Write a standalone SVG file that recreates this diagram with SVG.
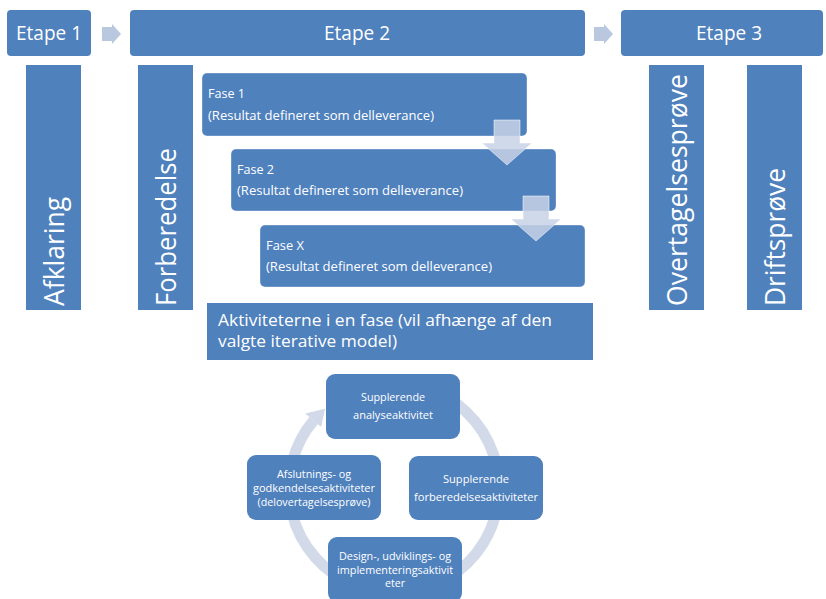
<svg xmlns="http://www.w3.org/2000/svg" width="826" height="599" viewBox="0 0 826 599">
<style>
.box{fill:#4f81bd}
.fase{fill:#4f81bd;stroke:#ffffff;stroke-opacity:0.35;stroke-width:1}
.t{fill:#ffffff;font-family:"Open Sans","Liberation Sans",sans-serif}
.et{font-size:20px;text-anchor:middle}
.vt{font-size:27px}
.ft{font-size:12.5px}
.at{font-size:17px}
.ct{font-size:11.5px;text-anchor:middle}
.harrow{fill:#b9c7df}
.varrow{fill:#c8d2e6;fill-opacity:0.85;stroke:#ffffff;stroke-opacity:0.5;stroke-width:1}
.ring{fill:none;stroke:#d2d9e8;stroke-width:11}
.ringhead{fill:#d2d9e8}
</style>
<rect width="826" height="599" fill="#ffffff"/>

<g id="etape1"><rect class="box" x="7" y="10" width="84" height="46" rx="4"/><text class="t et" x="49" y="40" textLength="66" lengthAdjust="spacingAndGlyphs">Etape 1</text></g>
<g id="etape2"><rect class="box" x="130" y="10" width="455" height="46" rx="4"/><text class="t et" x="357" y="40" textLength="66" lengthAdjust="spacingAndGlyphs">Etape 2</text></g>
<g id="etape3"><rect class="box" x="621" y="10" width="202" height="46" rx="4"/><text class="t et" x="729" y="40" textLength="66" lengthAdjust="spacingAndGlyphs">Etape 3</text></g>

<g id="afklaring"><rect class="box" x="26" y="65" width="55" height="245"/><text class="t vt" transform="translate(63.5,306) rotate(-90)" textLength="109" lengthAdjust="spacingAndGlyphs">Afklaring</text></g>
<g id="forberedelse"><rect class="box" x="138" y="65" width="55" height="245"/><text class="t vt" transform="translate(175.5,306) rotate(-90)" textLength="158" lengthAdjust="spacingAndGlyphs">Forberedelse</text></g>
<g id="overtagelsesproeve"><rect class="box" x="649" y="65" width="55" height="245"/><text class="t vt" transform="translate(687,306) rotate(-90)" textLength="232" lengthAdjust="spacingAndGlyphs">Overtagelsesprøve</text></g>
<g id="driftsproeve"><rect class="box" x="747" y="65" width="55" height="245"/><text class="t vt" transform="translate(784.5,306) rotate(-90)" textLength="138" lengthAdjust="spacingAndGlyphs">Driftsprøve</text></g>

<g id="fase1"><rect class="fase" x="202" y="73" width="325" height="63" rx="5"/><text class="t ft" x="208" y="98" textLength="37" lengthAdjust="spacingAndGlyphs">Fase 1</text><text class="t ft" x="208" y="120" textLength="226" lengthAdjust="spacingAndGlyphs">(Resultat defineret som delleverance)</text></g>
<g id="fase2"><rect class="fase" x="231" y="149" width="325" height="62" rx="5"/><text class="t ft" x="237" y="174" textLength="37" lengthAdjust="spacingAndGlyphs">Fase 2</text><text class="t ft" x="237" y="195" textLength="226" lengthAdjust="spacingAndGlyphs">(Resultat defineret som delleverance)</text></g>
<g id="faseX"><rect class="fase" x="260" y="225" width="325" height="62" rx="5"/><text class="t ft" x="266" y="250" textLength="38" lengthAdjust="spacingAndGlyphs">Fase X</text><text class="t ft" x="266" y="271" textLength="226" lengthAdjust="spacingAndGlyphs">(Resultat defineret som delleverance)</text></g>

<g id="aktiviteterne"><rect class="box" x="207" y="303" width="386" height="57"/><text class="t at" x="218" y="326" textLength="334" lengthAdjust="spacingAndGlyphs">Aktiviteterne i en fase (vil afhænge af den</text><text class="t at" x="218" y="347" textLength="179" lengthAdjust="spacingAndGlyphs">valgte iterative model)</text></g>

<g id="connectors">
<polygon class="harrow" points="102,27 112,27 112,24 121,34 112,44 112,41 102,41"/>
<polygon class="harrow" points="594,27 604,27 604,24 613,34 604,44 604,41 594,41"/>
<polygon class="varrow" points="494,120 520,120 520,143 532,143 507,165 482,143 494,143"/>
<polygon class="varrow" points="523,196 549,196 549,219 561,219 536,241 511,219 523,219"/>
<path class="ring" d="M 375.77 384.60 A 105 105 0 1 1 313.57 420.51"/>
<polygon class="ringhead" points="321.2,426.9 305.1,413.4 325.1,408.8"/>
</g>

<g id="analyse"><rect class="box" x="326" y="374" width="134" height="65" rx="9"/><text class="t ct" x="393" y="401" textLength="64" lengthAdjust="spacingAndGlyphs">Supplerende</text><text class="t ct" x="393" y="419" textLength="80" lengthAdjust="spacingAndGlyphs">analyseaktivitet</text></g>
<g id="forberedelsesakt"><rect class="box" x="409" y="456" width="134" height="64" rx="9"/><text class="t ct" x="476" y="483" textLength="66" lengthAdjust="spacingAndGlyphs">Supplerende</text><text class="t ct" x="476" y="501" textLength="124" lengthAdjust="spacingAndGlyphs">forberedelsesaktiviteter</text></g>
<g id="design"><rect class="box" x="328" y="537" width="134" height="65" rx="9"/><text class="t ct" x="395" y="560" textLength="112" lengthAdjust="spacingAndGlyphs">Design-, udviklings- og</text><text class="t ct" x="395" y="573.5" textLength="116" lengthAdjust="spacingAndGlyphs">implementeringsaktivit</text><text class="t ct" x="395" y="587" textLength="20" lengthAdjust="spacingAndGlyphs">eter</text></g>
<g id="afslutning"><rect class="box" x="247" y="455" width="134" height="65" rx="9"/><text class="t ct" x="314" y="478" textLength="74" lengthAdjust="spacingAndGlyphs">Afslutnings- og</text><text class="t ct" x="314" y="492" textLength="122" lengthAdjust="spacingAndGlyphs">godkendelsesaktiviteter</text><text class="t ct" x="314" y="506" textLength="113" lengthAdjust="spacingAndGlyphs">(delovertagelsesprøve)</text></g>
</svg>
